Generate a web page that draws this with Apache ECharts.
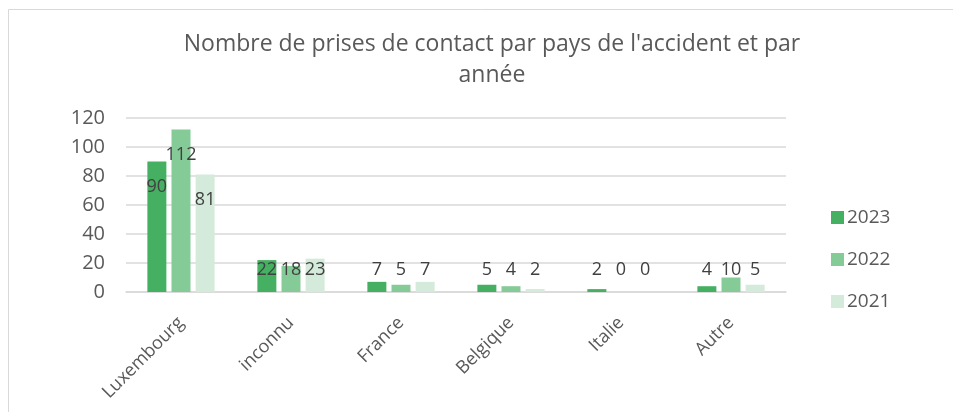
<!DOCTYPE html>
<html>
<head>
<meta charset="utf-8">
<script src="https://cdn.jsdelivr.net/npm/echarts@6/dist/echarts.min.js"></script>
<style>
  html, body { margin: 0; padding: 0; background: #fff; }
  #chart { width: 953px; height: 412px; }
</style>
</head>
<body>
<div id="chart"></div>
<script>
const countries = ['Luxembourg', 'inconnu', 'France', 'Belgique', 'Italie', 'Autre'];
const years = ['2023', '2022', '2021'];
const values2023 = [90, 22, 7, 5, 2, 4];
const values2022 = [112, 18, 5, 4, 0, 10];
const values2021 = [81, 23, 7, 2, 0, 5];
const yTicks = [0, 20, 40, 60, 80, 100, 120];

const colors = ['#46b062', '#84cb98', '#d4eadb'];
const font = '"Open Sans", sans-serif';

// big bars keep their label inside the top, small ones get it stacked above
const withLabels = values => values.map(v => ({
  value: v,
  label: v > 30
    ? { position: 'insideTop', distance: 16 }
    : { position: 'insideBottom', distance: 13 }
}));

const seriesValues = [values2023, values2022, values2021];

const chart = echarts.init(document.getElementById('chart'));

chart.setOption({
  animation: false,
  backgroundColor: '#fff',
  textStyle: { fontFamily: font },
  title: {
    text: "Nombre de prises de contact par pays de l'accident et par\nannée",
    left: 487,
    textAlign: 'center',
    top: 24,
    textStyle: {
      fontFamily: font,
      fontSize: 23,
      fontWeight: 'normal',
      color: '#595959',
      lineHeight: 31
    }
  },
  graphic: [{
    type: 'rect',
    shape: { x: 8.5, y: 9.5, width: 1000, height: 500 },
    style: { fill: 'none', stroke: '#d9d9d9', lineWidth: 1 },
    silent: true
  }],
  legend: {
    orient: 'vertical',
    left: 826,
    top: 203,
    itemWidth: 13,
    itemHeight: 13,
    itemGap: 23,
    icon: 'rect',
    data: years,
    textStyle: { fontFamily: font, fontSize: 19, color: '#595959', padding: [0, 0, 0, -2] }
  },
  grid: { left: 126, right: 167, top: 118, bottom: 120, containLabel: false },
  xAxis: {
    type: 'category',
    data: countries,
    axisLine: { lineStyle: { color: '#d9d9d9', width: 1.5 } },
    axisTick: { show: false },
    axisLabel: {
      rotate: 45,
      margin: 28,
      fontFamily: font,
      fontSize: 18,
      color: '#595959'
    }
  },
  yAxis: {
    type: 'value',
    min: yTicks[0],
    max: yTicks[yTicks.length - 1],
    interval: 20,
    axisLine: { show: false },
    axisTick: { show: false },
    splitLine: { lineStyle: { color: '#d9d9d9', width: 1.5 } },
    axisLabel: {
      margin: 21,
      fontFamily: font,
      fontSize: 20,
      color: '#595959'
    }
  },
  series: years.map((y, i) => ({
    name: y,
    type: 'bar',
    barWidth: 19,
    barGap: '27%',
    itemStyle: { color: colors[i] },
    label: {
      show: true,
      fontFamily: font,
      fontSize: 18,
      color: '#404040'
    },
    data: withLabels(seriesValues[i])
  }))
});
</script>
</body>
</html>
